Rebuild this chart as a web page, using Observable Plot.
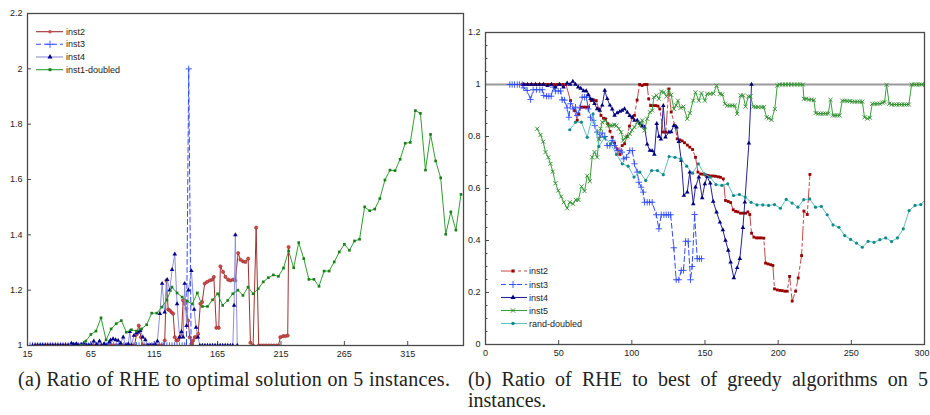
<!DOCTYPE html>
<html><head><meta charset="utf-8">
<script src="https://cdn.jsdelivr.net/npm/d3@7"></script>
<script src="https://cdn.jsdelivr.net/npm/@observablehq/plot@0.6"></script>
<style>
html,body{margin:0;padding:0;background:#fff;}
body{width:930px;height:415px;overflow:hidden;position:relative;font-family:"Liberation Sans",Arial,sans-serif;}
#left{position:absolute;left:0;top:0;}
#right{position:absolute;left:462px;top:0;}
#leg{position:absolute;left:0;top:0;pointer-events:none;}
.cap{position:absolute;top:369px;font-family:"Liberation Serif","Times New Roman",serif;font-size:20px;line-height:21px;color:#222;}
#capA{left:18px;width:440px;white-space:nowrap;letter-spacing:0.3px;}
#capB{left:468px;width:460px;text-align:justify;}
</style></head>
<body>
<div id="left"></div>
<div id="right"></div>
<svg id="leg" width="930" height="365"></svg>
<div class="cap" id="capA">(a) Ratio of RHE to optimal solution on 5 instances.</div>
<div class="cap" id="capB">(b) Ratio of RHE to best of greedy algorithms on 5 instances.</div>
<script>
// ---------- Panel (a) data ----------
const leftXTicks = [15, 65, 115, 165, 215, 265, 315];
const leftYTicks = [1, 1.2, 1.4, 1.6, 1.8, 2, 2.2];
const leftNames = ["inst2", "inst3", "inst4", "inst1-doubled"];

const leftInst2 = [
[22,1],[24,1],[26,1],[28,1],[30,1],[32,1],[34,1],[36,1],[38,1],[40,1],[42,1],[44,1],[46,1],[48,1],[50,1],[52,1],[54,1],[56,1],[58,1],[60,1],[62,1],[64,1],[66,1],[68,1],[70,1],[72,1],[74,1],[76,1],[78,1],[80,1],[82,1],[84,1],[86,1],[88,1],[90,1],[92,1],[94,1],[96,1],[98,1],[99.5,1],
[101,1.04],[102.8,1.072],[104.5,1.03],[106,1],[108,1],[110,1],[112,1],[114,1],[116,1],[118,1],[120,1],[122,1],
[123.3,1.018],[124.6,1.235],[126,1.13],[127.3,1.127],[128.6,1.12],[129.9,1.115],[131.2,1.03],[132.5,1.018],[133.8,1.02],[135.1,1.03],[136.5,1.042],[137.8,1.163],[139,1.151],[140.4,1.133],[141.7,1.09],[143,1.03],[144.3,1.006],[145.7,1.018],[147,1.03],[148.3,1.03],[149.6,1.042],[151.4,1.151],[152.8,1.157],[154.8,1.224],[156.7,1.23],[158.8,1.235],[160.7,1.238],[162,1.248],[164,1.064],[165.9,1.064],[167.2,1.286],[169.3,1.266],[171.2,1.248],[173.3,1.238],[175.1,1.235],[177.2,1.238],[179,1.235],[181.2,1.334],[183,1.31],[185.1,1.304],[186.9,1.302],[189.1,1.314],[190.9,1.01],[193,1],[195.4,1.426],[197.4,1],[199.4,1],[201.4,1],[203.4,1],[205.4,1],[207.4,1],[209.4,1],[211.4,1],[213,1],[214.5,1.03],[216.7,1.034],[218.5,1.034],[220.3,1.036],[221,1.356]
];
const leftInst3 = [
[15,1],[17,1],[19,1],[21,1],[23,1],[25,1],[27,1],[29,1],[31,1],[33,1],[35,1],[37,1],[39,1],[41,1],[43,1],[45,1],[47,1],[49,1],[51,1],[53,1],[55,1],[57,1],[59,1],[61,1],[63,1],[65,1],[67,1],[69,1],[71,1],[73,1],[75,1],[77,1],[79,1],[81,1],[83,1],[85,1],[87,1],[89,1],[91,1],[93,1],[95,1],[97,1],[99,1],[101,1],[103,1],[105,1],[107,1],[109,1],[111,1],[113,1],[115,1],[117,1],[119,1],[121,1],[123,1],[125,1],[127,1],[129,1],[131,1],[133,1],[135,1],[137,1],[139,1],[140.4,1],[142.2,2],[144.1,1],[146,1]
];
const leftInst4 = [
[19,1],[21,1],[23,1],[25,1],[27,1],[29,1],[31,1],[33,1],[35,1],[37,1],[39,1],[41,1],[43,1],[45,1],[47,1],[49.7,1.008],[51.5,1.004],[53.6,1.006],[55.5,1],[57.5,1.003],[59.4,1.008],[61.5,1],[63.5,1],[65.5,1],[67.3,1.016],[69.5,1.004],[71.8,1.016],[73.5,1],[75.5,1.006],[77.5,1],[79.5,1.012],[80.5,1.019],[82.5,1.024],[84.5,1.02],[86.5,1.018],[88.5,1.008],[90.5,1.03],[92.5,1],[94.5,1.005],[95.7,1.05],[97,1],[99,1.036],[101,1.045],[102.3,1.048],[104,1.054],[106,1.03],[108,1.02],[110,1],[112,1],[114,1],[116,1.002],[117.5,1.016],[119.4,1.115],[121.2,1.224],[123.2,1.12],[125.2,1.238],[127.2,1.2],[129.1,1.274],[131.2,1.33],[133,1.15],[135,1.03],[136.5,1.05],[137.8,1.03],[139,1.224],[140.5,1.072],[142,1.2],[144.3,1.27],[146.5,1.13],[148,1.065],[149.5,1.03],[151,1],[153,1],[155,1],[157,1],[159,1],[161,1],[163,1],[165,1],[167,1],[169,1],[171,1],[173,1],[175,1],[177,1],[178,1.145],[179,1.4],[180.5,1]
];
const leftInst1Doubled = [
[57,1],[61,1.016],[65,1.04],[69,1.052],[73,1.1],[77,1.02],[81,1.06],[85,1.079],[89,1.09],[93,1.048],[97,1.057],[101,1.052],[105,1.06],[109,1.075],[113,1.117],[117,1.117],[121,1.139],[125,1.165],[129,1.211],[133,1.19],[137,1.175],[141,1.16],[145,1.15],[149,1.19],[153,1.141],[157,1.141],[161,1.165],[165,1.187],[169,1.145],[173,1.163],[177,1.187],[181,1.2],[185,1.181],[189,1.211],[193,1.187],[197,1.205],[201,1.23],[205,1.245],[209,1.255],[213,1.25],[217,1.28],[221,1.342],[225,1.281],[229,1.372],[233,1.314],[237,1.239],[241,1.239],[245,1.214],[249,1.269],[253,1.269],[257,1.302],[261,1.338],[265,1.366],[269,1.344],[273,1.378],[277,1.384],[281,1.501],[285,1.487],[289,1.493],[293,1.531],[297,1.598],[301,1.634],[305,1.632],[309,1.673],[313,1.731],[317,1.734],[321,1.849],[325,1.839],[329,1.634],[333,1.763],[337,1.667],[341,1.606],[345,1.402],[349,1.483],[353,1.417],[357,1.546]
];

// ---------- Panel (b) data ----------
const rightXTicks = [0, 50, 100, 150, 200, 250, 300];
const rightYTicks = [0, 0.2, 0.4, 0.6, 0.8, 1, 1.2];
const rightNames = ["inst2", "inst3", "inst4", "inst5", "rand-doubled"];

const rightInst2 = [
[25,1],[27,1],[29,1],[31,1],[33,1],[35,1],[37,1],[39,1],[41,1],[43,1],[45,1],[47,1],[49,1],[51,1],[53,1],[55,1],[58.1,0.938],[60.8,0.9],[62.7,0.862],[63.8,0.887],[65.4,0.913],[67,0.913],[68.8,0.913],[70.4,0.913],[72.2,0.938],[73.8,0.941],[75.7,0.938],[77.4,0.906],[78.9,0.881],[80.7,0.87],[82,0.868],[83.6,0.849],[85.1,0.82],[86.6,0.797],[88.2,0.775],[90,0.752],[91.8,0.731],[93.4,0.765],[95,0.772],[96.7,0.8],[98.4,0.84],[100.3,0.872],[101.8,0.881],[103.6,0.94],[105.3,1],[107,0.996],[108.7,1],[110.4,1],[111.5,0.945],[112.8,0.919],[114.5,0.919],[116.2,0.919],[117.9,0.917],[119.1,0.906],[121.5,0.817],[123.2,0.817],[125.3,0.983],[126.9,0.894],[129.4,0.842],[131,0.791],[132.8,0.787],[134.4,0.783],[136,0.776],[137.9,0.767],[139.6,0.759],[141.5,0.75],[143.5,0.72],[145.2,0.663],[147,0.656],[148.7,0.655],[150.4,0.652],[152.2,0.65],[153.8,0.648],[155.6,0.648],[157.2,0.647],[159.1,0.645],[160.6,0.643],[162.5,0.637],[164,0.554],[165.9,0.55],[167.5,0.546],[169.3,0.518],[170.9,0.512],[172.5,0.51],[174.3,0.505],[176.1,0.505],[177.7,0.505],[179.3,0.51],[180.6,0.5],[181.8,0.428],[183.4,0.413],[185.2,0.41],[186.8,0.41],[188.4,0.41],[190.2,0.409],[191.4,0.313],[193,0.31],[194.8,0.307],[196.4,0.304],[197.5,0.214],[199.4,0.21],[201.2,0.208],[202.8,0.207],[204.6,0.205],[206.2,0.205],[207.8,0.262],[209.6,0.167],[211.9,0.205],[213.7,0.256],[216,0.342],[217.6,0.513],[219.9,0.5],[221.7,0.654]
];
const rightInst3 = [
[16.6,1],[18.2,1],[19.8,1],[21.7,1],[23.2,1],[25.1,1],[26.2,0.987],[28.5,0.977],[30.8,0.942],[32.6,0.98],[34.9,0.98],[37.1,0.98],[38.8,0.98],[39.8,0.958],[41.7,0.955],[43.3,0.955],[44.9,0.955],[46.3,0.99],[47.8,0.975],[49.7,0.975],[51.3,0.975],[52.4,0.941],[54,0.94],[55.8,0.91],[57,0.874],[58.1,0.926],[59.9,0.906],[61.5,0.913],[62.7,0.881],[64.5,0.91],[66.1,0.951],[67.7,0.951],[69,0.951],[70.2,0.906],[71.8,0.874],[73.6,0.862],[74.7,0.842],[76.3,0.817],[78.1,0.797],[79.8,0.813],[81.5,0.8],[83.2,0.765],[85,0.765],[86.6,0.785],[88.2,0.765],[90,0.746],[91.8,0.746],[93.2,0.74],[94.5,0.714],[96.4,0.72],[98.6,0.746],[100.3,0.746],[101.8,0.695],[103.7,0.663],[104.8,0.624],[106.4,0.605],[107.8,0.586],[108.7,0.547],[110.5,0.547],[112.1,0.547],[113.9,0.547],[116.7,0.499],[118.5,0.445],[120.1,0.499],[121.9,0.499],[123.5,0.499],[125.1,0.499],[126.5,0.499],[128.7,0.372],[130.3,0.249],[132.1,0.249],[133.8,0.285],[135.3,0.285],[136.7,0.397],[138.5,0.397],[140.1,0.249],[141.2,0.3],[142.9,0.5],[144.7,0.33],[146.2,0.33],[147.6,0.33]
];
const rightInst4 = [
[26.2,1],[28.7,1],[31.4,1],[34.2,1],[36.9,1],[39.6,1],[42.4,0.995],[45.1,1],[47.8,0.99],[50.6,1],[53.3,0.99],[55.8,1.005],[57.8,1],[59.7,1.012],[61.5,1],[63.4,0.99],[65.1,0.985],[67,0.975],[68.8,0.975],[70.4,0.96],[71.8,0.945],[73.2,0.94],[74.5,0.926],[76.3,0.906],[78.1,0.9],[79.8,0.92],[81.5,0.977],[83.2,0.945],[85,0.92],[86.6,0.905],[88.2,0.881],[90,0.891],[91.8,0.896],[93.4,0.9],[95,0.906],[96.9,0.893],[98.6,0.88],[100.3,0.874],[101.8,0.862],[103.7,0.862],[105.5,0.849],[107.1,0.84],[108.7,0.836],[110.5,0.77],[112.3,0.746],[113.9,0.745],[115.4,0.731],[117,0.849],[118.5,0.8],[119.9,0.79],[121.5,0.919],[123,0.797],[125.3,0.817],[126.9,0.818],[128.7,0.842],[130.6,0.836],[132.1,0.78],[133.8,0.708],[135.6,0.573],[137.9,0.586],[139.6,0.663],[142,0.541],[143.5,0.605],[145.8,0.644],[148.1,0.564],[149.9,0.618],[151.5,0.646],[153.6,0.62],[155.6,0.55],[157.9,0.509],[160.2,0.47],[162.2,0.441],[164,0.4],[165.9,0.362],[167.5,0.317],[169.7,0.256],[172,0.295],[173.8,0.33],[175.9,0.449],[177.2,0.547],[180,0.774],[181.8,1]
];
const rightInst5 = [
[35.3,0.83],[37.6,0.806],[39.4,0.78],[41,0.74],[42.9,0.72],[44.4,0.695],[46,0.665],[47.8,0.62],[49.7,0.592],[51.7,0.569],[53.5,0.547],[55.8,0.524],[57.6,0.547],[59.7,0.541],[61.7,0.556],[63.5,0.556],[65.6,0.608],[67.7,0.59],[69.5,0.649],[71.3,0.628],[72.9,0.72],[74.5,0.74],[76.3,0.72],[77.5,0.79],[78.6,0.83],[79.8,0.855],[82,0.862],[83.6,0.842],[85.1,0.842],[86.6,0.842],[88,0.845],[89.5,0.842],[91.1,0.83],[92.7,0.817],[94.1,0.785],[95.7,0.797],[97.2,0.8],[98.6,0.81],[100.2,0.825],[101.8,0.836],[103.7,0.855],[105.5,0.842],[107.1,0.862],[108.7,0.823],[110.5,0.868],[112.3,0.894],[113.9,0.9],[115,0.951],[116.9,0.958],[118.5,0.945],[120.1,0.973],[121.9,0.97],[123.7,0.954],[125.3,0.977],[126.9,0.96],[128.7,0.906],[130.3,0.92],[131.5,0.938],[133.3,0.91],[135.3,0.915],[137.9,0.868],[139.6,0.89],[141.9,0.938],[143.5,0.97],[145.8,0.938],[147.6,0.967],[149.9,0.938],[151.5,0.964],[153.6,0.964],[155.8,0.965],[157.9,0.996],[160.2,0.964],[161.8,0.962],[163.6,0.926],[165.2,0.919],[167,0.919],[168.6,0.919],[170.4,0.919],[172,0.887],[174.3,0.958],[176.1,0.958],[177.7,0.915],[179.6,0.954],[181.1,0.954],[183,0.915],[184.6,0.913],[186.4,0.913],[188.7,0.913],[190.2,0.913],[192.1,0.874],[193.6,0.87],[195.5,0.864],[197.7,0.906],[199.4,0.996],[201,1],[203,1],[205,1],[207,1],[209,1],[211,1],[213,1],[215,1],[216.9,1],[217.6,0.945],[219.2,0.945],[221,0.942],[222.8,0.942],[224.4,0.94],[225.6,0.89],[227.4,0.888],[229,0.888],[230.8,0.888],[232.4,0.888],[234.2,0.888],[235.8,0.941],[237.4,0.881],[238.8,0.881],[240.4,0.881],[242,0.881],[243.8,0.938],[245.6,0.938],[247.2,0.936],[249,0.936],[250.6,0.934],[252.4,0.934],[254.1,0.934],[255.8,0.934],[257.5,0.934],[259,0.874],[260.9,0.869],[262.7,0.872],[264.3,0.926],[266.1,0.926],[267.7,0.926],[269.5,0.926],[271.2,0.93],[272.7,0.932],[274.1,0.999],[275.9,0.926],[277.5,0.923],[279.4,0.923],[280.9,0.923],[282.8,0.923],[284.3,0.923],[286.2,0.923],[287.8,0.923],[289.3,0.923],[291.2,1],[293,1],[294.6,1],[296.4,1],[298,1],[300.3,1],[301.9,0.94]
];
const rightRandDoubled = [
[57.6,0.826],[61.5,0.855],[65.5,0.855],[69.5,0.797],[73.5,0.887],[77.5,0.762],[81.5,0.797],[85.5,0.772],[89.5,0.731],[93.5,0.695],[97.5,0.686],[101.5,0.644],[105.5,0.663],[109.5,0.631],[113.5,0.669],[117.5,0.669],[121.5,0.653],[125.5,0.723],[129.5,0.72],[133.5,0.714],[137.5,0.686],[141.5,0.659],[145.5,0.695],[149.5,0.656],[153.5,0.644],[157.5,0.615],[161.5,0.612],[165.5,0.618],[169.5,0.573],[173.5,0.577],[177.5,0.567],[181.5,0.547],[185.5,0.537],[189.5,0.537],[193.5,0.535],[197.5,0.538],[201.5,0.524],[205.5,0.558],[209.5,0.544],[213.5,0.528],[217.5,0.557],[221.5,0.56],[225.5,0.528],[229.5,0.531],[233.5,0.499],[237.5,0.46],[241.5,0.451],[245.5,0.419],[249.5,0.404],[253.5,0.39],[257.5,0.374],[261.5,0.397],[265.5,0.393],[269.5,0.403],[273.5,0.41],[277.5,0.396],[281.5,0.41],[285.5,0.445],[289.5,0.515],[293.5,0.535],[297.5,0.538],[301,0.56]
];

// ---------- styles ----------
const FRAME = "#4a4a4a";
const leftStyle = [
  {data: leftInst2, line: "#a23030", dash: null, sym: "circle", r: 1.6, mfill: "#cc5050", mstroke: "#9a1f1f"},
  {data: leftInst3, line: "#2f4cff", dash: "5,3", sym: "plus", r: 2.2, mfill: "none", mstroke: "#2f4cff"},
  {data: leftInst4, line: "#8f8fd8", dash: null, sym: "triangle", r: 1.7, mfill: "#00008b", mstroke: "none"},
  {data: leftInst1Doubled, line: "#2f9f2f", dash: null, sym: "square", r: 1.5, mfill: "#1a7f1a", mstroke: "none"}
];
const rightStyle = [
  {data: rightInst2, line: "#c44848", dash: "14,3,3,3", sym: "square", r: 1.6, mfill: "#990000", mstroke: "none"},
  {data: rightInst3, line: "#2f4cff", dash: "5,3", sym: "plus", r: 2.2, mfill: "none", mstroke: "#2f4cff"},
  {data: rightInst4, line: "#23239a", dash: null, sym: "triangle", r: 1.7, mfill: "#00007a", mstroke: "none"},
  {data: rightInst5, line: "#3aa03a", dash: null, sym: "times", r: 2, mfill: "none", mstroke: "#2a8a2a"},
  {data: rightRandDoubled, line: "#62bfbf", dash: null, sym: "circle", r: 1.6, mfill: "#0f8a8a", mstroke: "none"}
];

function seriesMarks(s) {
  const lineOpts = {x: d => d[0], y: d => d[1], stroke: s.line, strokeWidth: 1, clip: true};
  if (s.dash) lineOpts.strokeDasharray = s.dash;
  const dotOpts = {x: d => d[0], y: d => d[1], symbol: s.sym, r: s.r, clip: true};
  if (s.mfill === "none") { dotOpts.fill = "none"; dotOpts.stroke = s.mstroke; dotOpts.strokeWidth = 0.9; }
  else { dotOpts.fill = s.mfill; dotOpts.stroke = s.mstroke === "none" ? "none" : s.mstroke; dotOpts.strokeWidth = 0.6; }
  return [Plot.line(s.data, lineOpts), Plot.dot(s.data, dotOpts)];
}

const axisStyle = {fontFamily: "'Liberation Sans', Arial, sans-serif", fontSize: "9px", color: "#222", background: "transparent", overflow: "visible"};

// ---------- Panel (a) ----------
const LW = 470, LH = 365, Lml = 27, Lmr = 7, Lmt = 13, Lmb = 20;
const leftPlot = Plot.plot({
  width: LW, height: LH,
  marginLeft: Lml, marginRight: Lmr, marginTop: Lmt, marginBottom: Lmb,
  x: {domain: [15, 359]},
  y: {domain: [1, 2.2]},
  style: axisStyle,
  marks: [
    Plot.axisX({ticks: leftXTicks, tickSize: 0, tickPadding: 5, label: null, tickFormat: d => String(d)}),
    Plot.axisY({ticks: leftYTicks, tickSize: 0, tickPadding: 5, label: null, tickFormat: d => String(d)}),
    Plot.ruleX(leftXTicks, {insetTop: (LH - Lmt - Lmb) - 4, stroke: FRAME}),
    Plot.ruleY(leftYTicks, {insetRight: (LW - Lml - Lmr) - 4, stroke: FRAME}),
    ...leftStyle.flatMap(seriesMarks),
    Plot.frame({stroke: FRAME, strokeWidth: 1.3})
  ]
});
document.getElementById("left").append(leftPlot);

// ---------- Panel (b) ----------
const RW = 468, RH = 365, Rml = 23, Rmr = 6, Rmt = 32, Rmb = 21;
const rightMinorY = d3.range(0, 1.2001, 0.05).map(v => +v.toFixed(2));
const lastX = rightXTicks[rightXTicks.length - 1];
const rightPlot = Plot.plot({
  width: RW, height: RH,
  marginLeft: Rml, marginRight: Rmr, marginTop: Rmt, marginBottom: Rmb,
  x: {domain: [0, 300]},
  y: {domain: [0, 1.2]},
  style: axisStyle,
  marks: [
    Plot.axisX({ticks: rightXTicks.filter(t => t !== lastX), tickSize: 0, tickPadding: 5, label: null, tickFormat: d => String(d)}),
    Plot.axisX({ticks: [lastX], tickSize: 0, tickPadding: 5, label: null, textAnchor: "end", dx: 5, tickFormat: d => String(d)}),
    Plot.axisY({ticks: rightYTicks, tickSize: 0, tickPadding: 5, label: null, tickFormat: d => String(d)}),
    Plot.ruleX(rightXTicks, {insetTop: (RH - Rmt - Rmb) - 4, stroke: FRAME}),
    Plot.ruleY(rightMinorY, {insetRight: (RW - Rml - Rmr) - 2.5, stroke: FRAME}),
    Plot.ruleY(rightYTicks, {insetRight: (RW - Rml - Rmr) - 4, stroke: FRAME}),
    Plot.ruleY([1], {stroke: "#9a9a9a", strokeWidth: 2}),
    ...rightStyle.flatMap(seriesMarks),
    Plot.frame({stroke: FRAME, strokeWidth: 1.3})
  ]
});
document.getElementById("right").append(rightPlot);

// ---------- Legends ----------
const symMap = {circle: d3.symbolCircle, plus: d3.symbolPlus, triangle: d3.symbolTriangle, square: d3.symbolSquare, times: d3.symbolTimes};
const leg = d3.select("#leg");
function drawLegend(names, styles, x0, x1, mx, tx, ys) {
  names.forEach((name, i) => {
    const s = styles[i], y = ys[i];
    leg.append("line").attr("x1", x0).attr("x2", x1).attr("y1", y).attr("y2", y)
      .attr("stroke", s.line).attr("stroke-width", 1.1)
      .attr("stroke-dasharray", s.dash ? s.dash : null);
    const p = leg.append("path")
      .attr("d", d3.symbol(symMap[s.sym], Math.PI * s.r * s.r * 1.2)())
      .attr("transform", `translate(${mx},${y})`);
    if (s.mfill === "none") p.attr("fill", "none").attr("stroke", s.mstroke).attr("stroke-width", 0.9);
    else p.attr("fill", s.mfill);
    leg.append("text").attr("x", tx).attr("y", y).attr("dy", "0.35em")
      .attr("font-family", "'Liberation Sans', Arial, sans-serif").attr("font-size", 9).attr("fill", "#222")
      .text(name);
  });
}
drawLegend(leftNames, leftStyle, 36, 63, 50, 66, [31.7, 44.3, 57, 69.7]);
drawLegend(rightNames, rightStyle, 501, 527, 513, 529, [271, 284.5, 297.5, 310.5, 323.5]);
</script>
</body></html>
